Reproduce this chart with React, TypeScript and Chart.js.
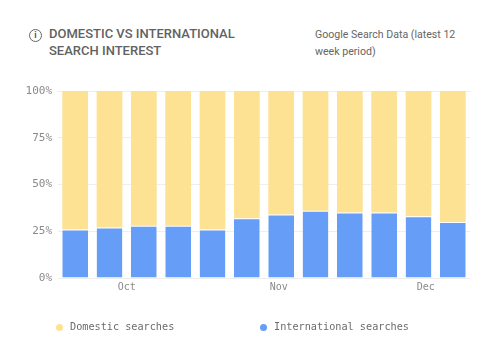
import React, { useEffect, useRef } from "react";
import { Chart, registerables } from "chart.js";

Chart.register(...registerables);

const weekStarts = [
  "2023-09-17", "2023-09-24", "2023-10-01", "2023-10-08", "2023-10-15", "2023-10-22",
  "2023-10-29", "2023-11-05", "2023-11-12", "2023-11-19", "2023-11-26", "2023-12-03",
];
const internationalValues = [26, 27, 28, 28, 26, 32, 34, 36, 35, 35, 33, 30];
const domesticValues = internationalValues.map((v) => 100 - v);
const monthLabels = ["Oct", "Nov", "Dec"];
const monthStartDates = ["2023-10-01", "2023-11-01", "2023-12-01"];
const yTickValues = [0, 25, 50, 75, 100];

const seriesNames = ["Domestic searches", "International searches"];
const YELLOW = "#FDE293";
const BLUE = "#669DF6";
const MONO = "'DejaVu Sans Mono', 'Liberation Mono', monospace";

const dayMs = 86400000;
const firstCenter = Date.parse(weekStarts[0]) + 3.5 * dayMs;
const monthPositions = monthStartDates.map((d) => (Date.parse(d) - firstCenter) / (7 * dayMs));

const monthLabelPlugin = {
  id: "monthLabels",
  afterDraw(chart: any) {
    const x = chart.scales.x;
    const ctx = chart.ctx;
    ctx.save();
    ctx.font = `10px ${MONO}`;
    ctx.fillStyle = "#8a8a8a";
    ctx.textAlign = "center";
    ctx.textBaseline = "middle";
    monthPositions.forEach((p, i) => {
      ctx.fillText(monthLabels[i], x.getPixelForValue(p), chart.chartArea.bottom + 9);
    });
    ctx.restore();
  },
};

export default function App() {
  const ref = useRef<HTMLCanvasElement | null>(null);

  useEffect(() => {
    if (!ref.current) return;
    const chart = new Chart(ref.current, {
      type: "bar",
      data: {
        labels: weekStarts,
        datasets: [
          {
            label: seriesNames[1],
            data: internationalValues,
            backgroundColor: BLUE,
            borderColor: "#ffffff",
            borderWidth: { top: 1, left: 0, right: 0, bottom: 0 },
            borderSkipped: false,
            barPercentage: 0.75,
            categoryPercentage: 1,
          },
          {
            label: seriesNames[0],
            data: domesticValues,
            backgroundColor: YELLOW,
            borderWidth: 0,
            barPercentage: 0.75,
            categoryPercentage: 1,
          },
        ],
      },
      options: {
        responsive: false,
        animation: false,
        layout: { padding: { left: 0, top: 91, right: 30, bottom: 80 } },
        plugins: { legend: { display: false }, tooltip: { enabled: false } },
        scales: {
          x: { stacked: true, display: false },
          y: {
            stacked: true,
            min: 0,
            max: 100,
            afterBuildTicks: (axis: any) => {
              axis.ticks = yTickValues.map((v) => ({ value: v }));
            },
            afterFit: (axis: any) => {
              axis.width = 58;
            },
            grid: { color: "#eeeeee", drawTicks: false },
            border: { display: false },
            ticks: {
              padding: 6,
              color: "#8a8a8a",
              font: { family: MONO, size: 11 },
              callback: (v: any) => v + "%",
            },
          },
        },
      } as any,
      plugins: [monthLabelPlugin],
    });
    return () => chart.destroy();
  }, []);

  const legendItem = (color: string, text: string, dotX: number) => (
    <div style={{ position: "absolute", left: dotX - 4, top: 319, display: "flex", alignItems: "center" }}>
      <span style={{ width: 7, height: 7, borderRadius: "50%", background: color, display: "inline-block" }} />
      <span style={{ marginLeft: 7, fontFamily: MONO, fontSize: 10.2, color: "#6b6b6b", lineHeight: "16px" }}>{text}</span>
    </div>
  );

  return (
    <div style={{ position: "absolute", left: 0, top: 0, width: 500, height: 358, background: "#fff", overflow: "hidden" }}>
      <div style={{ position: "absolute", left: 29, top: 29, width: 11, height: 11, borderRadius: "50%", border: "1.3px solid #666", fontFamily: "Roboto, sans-serif", fontSize: 9, lineHeight: "11px", textAlign: "center", color: "#555", fontWeight: 700 }}>i</div>
      <div style={{ position: "absolute", left: 49, top: 25, fontFamily: "Roboto, sans-serif", fontSize: 13, fontWeight: 500, letterSpacing: 0, color: "#626262", lineHeight: "17px" }}>
        DOMESTIC VS INTERNATIONAL<br />SEARCH INTEREST
      </div>
      <div style={{ position: "absolute", left: 315, top: 26, fontFamily: "Roboto, sans-serif", fontSize: 10.6, color: "#666", lineHeight: "17px", width: 170 }}>
        Google Search Data (latest 12<br />week period)
      </div>
      <canvas ref={ref} width={500} height={358} style={{ position: "absolute", left: 0, top: 0 }} />
      {legendItem(YELLOW, seriesNames[0], 60)}
      {legendItem(BLUE, seriesNames[1], 264)}
    </div>
  );
}
